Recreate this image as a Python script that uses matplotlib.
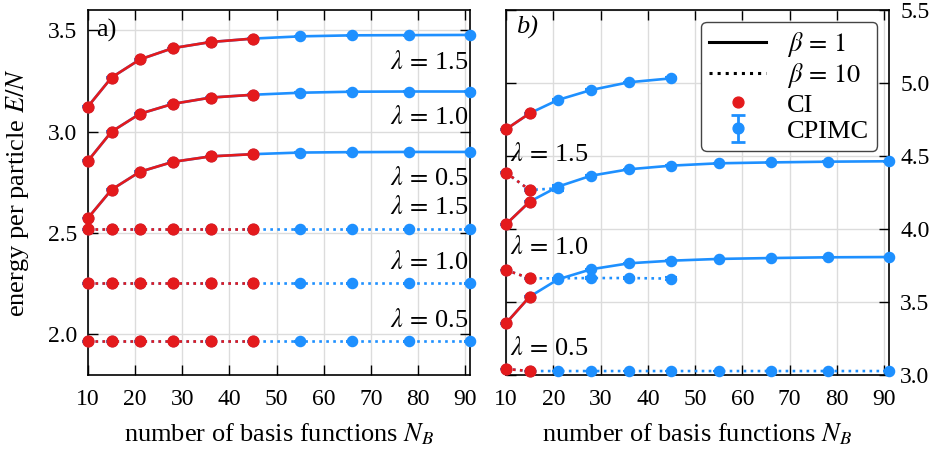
import numpy as np
import matplotlib
matplotlib.use('Agg')
import matplotlib.pyplot as plt
from matplotlib.lines import Line2D

plt.rcParams['font.family'] = 'Liberation Serif'
plt.rcParams['mathtext.fontset'] = 'stix'
plt.rcParams['font.size'] = 19

RED = '#e41a1c'
BLUE = '#1e90ff'
FS = 19      # labels, legend, annotations
TFS = 17     # tick labels

# number of basis functions
nb = [10, 15, 21, 28, 36, 45, 55, 66, 78, 91]

# ---- panel a) ----
a_cpimc_b1 = {
    1.5: [3.124, 3.267, 3.356, 3.412, 3.442, 3.459, 3.470, 3.475, 3.476, 3.477],
    1.0: [2.856, 3.000, 3.088, 3.137, 3.168, 3.182, 3.192, 3.197, 3.198, 3.198],
    0.5: [2.574, 2.714, 2.802, 2.851, 2.878, 2.889, 2.897, 2.899, 2.900, 2.900],
}
a_cpimc_b10 = {
    1.5: [2.518] * 10,
    1.0: [2.252] * 10,
    0.5: [1.967] * 10,
}
a_ci_b1 = {k: v[:6] for k, v in a_cpimc_b1.items()}
a_ci_b10 = {k: v[:6] for k, v in a_cpimc_b10.items()}
a_err = 0.002

# ---- panel b) ----
b_cpimc_b1 = {
    1.5: [4.683, 4.792, 4.884, 4.952, 5.005, 5.032],
    1.0: [4.032, 4.187, 4.290, 4.365, 4.409, 4.434, 4.450, 4.456, 4.461, 4.464],
    0.5: [3.354, 3.536, 3.655, 3.724, 3.765, 3.783, 3.795, 3.801, 3.806, 3.808],
}
b_cpimc_b1_err = {
    1.5: [0.003, 0.003, 0.004, 0.004, 0.005, 0.006],
    1.0: [0.002] * 10,
    0.5: [0.002] * 10,
}
b_cpimc_b10 = {
    1.5: [4.386, 4.267, 4.279],
    1.0: [3.719, 3.662, 3.662, 3.664, 3.664, 3.660],
    0.5: [3.041, 3.027, 3.027, 3.027, 3.027, 3.027, 3.027, 3.027, 3.027, 3.027],
}
b_cpimc_b10_err = {
    1.5: [0.004, 0.004, 0.020],
    1.0: [0.003, 0.003, 0.004, 0.004, 0.005, 0.012],
    0.5: [0.002] * 10,
}
b_ci_b1 = {1.5: [4.683, 4.792], 1.0: [4.032, 4.187], 0.5: [3.354, 3.536]}
b_ci_b10 = {1.5: [4.386, 4.267], 1.0: [3.719, 3.662], 0.5: [3.041, 3.027]}

fig = plt.figure(figsize=(9.37, 4.5), dpi=100)
ax1 = fig.add_axes([0.0939, 0.1667, 0.4077, 0.8111])
ax2 = fig.add_axes([0.540, 0.1667, 0.4088, 0.8111])

lw = 1.9
ms = 7.8
cap = 4


def draw(ax, cp, cperr, ci, ls):
    for lam in cp:
        y = cp[lam]
        x = nb[:len(y)]
        ax.errorbar(x, y, yerr=cperr[lam], color=BLUE, ls=ls, lw=lw, marker='o',
                    ms=ms - 0.5, capsize=cap, elinewidth=1.5, capthick=1.5,
                    zorder=3, clip_on=False)
    for lam in ci:
        y = ci[lam]
        x = nb[:len(y)]
        ax.plot(x, y, color=RED, ls=ls, lw=lw, marker='o', ms=ms, zorder=4,
                clip_on=False)


# panel a
draw(ax1, a_cpimc_b1, {k: [a_err] * 10 for k in a_cpimc_b1}, a_ci_b1, '-')
draw(ax1, a_cpimc_b10, {k: [a_err] * 10 for k in a_cpimc_b10}, a_ci_b10, ':')
# panel b
draw(ax2, b_cpimc_b1, b_cpimc_b1_err, b_ci_b1, '-')
draw(ax2, b_cpimc_b10, b_cpimc_b10_err, b_ci_b10, ':')

for ax in (ax1, ax2):
    ax.set_xlim(10, 91)
    ax.set_xticks(range(10, 91, 10))
    ax.grid(True, color='#dcdcdc', lw=1.0)
    ax.set_axisbelow(True)
    ax.tick_params(direction='in', top=True, right=True, length=7, width=1.0,
                   labelsize=TFS, pad=8)
    ax.tick_params(axis='x', pad=10)
    ax.set_xlabel('number of basis functions $N_B$', fontsize=FS, labelpad=8)
    for s in ax.spines.values():
        s.set_linewidth(1.2)

ax1.set_ylim(1.8, 3.6)
ax1.set_yticks([2.0, 2.5, 3.0, 3.5])
ax1.set_ylabel('energy per particle $E/N$', fontsize=FS, labelpad=12)

ax2.set_ylim(3.0, 5.5)
ax2.set_yticks([3.0, 3.5, 4.0, 4.5, 5.0, 5.5])
ax2.yaxis.tick_right()
ax2.tick_params(left=True, labelleft=False, labelright=True)

# annotations
ax1.text(11.8, 3.5, 'a)', fontsize=FS, va='center', ha='left')
ax2.text(12.2, 5.38, 'b)', fontsize=FS, va='center', ha='left', style='italic')

for lab, yy in [('1.5', 3.342), ('1.0', 3.071), ('0.5', 2.771),
                ('1.5', 2.628), ('1.0', 2.357), ('0.5', 2.071)]:
    ax1.text(90.6, yy, r'$\lambda\,=\,$' + lab, ha='right', va='center', fontsize=FS)
for lab, yy in [('1.5', 4.507), ('1.0', 3.870), ('0.5', 3.178)]:
    ax2.text(10.9, yy, r'$\lambda\,=\,$' + lab, ha='left', va='center', fontsize=FS)

# legend
h_b1 = Line2D([], [], color='black', lw=2.2, ls='-')
h_b10 = Line2D([], [], color='black', lw=2.2, ls=':')
h_ci = Line2D([], [], color=RED, marker='o', ls='none', ms=ms)
h_cp = ax2.errorbar([np.nan], [np.nan], yerr=[np.nan], color=BLUE, fmt='o',
                    ms=ms, capsize=5, elinewidth=2, capthick=2)
leg = ax2.legend([h_b1, h_b10, h_ci, h_cp],
                 [r'$\beta\,=\,1$', r'$\beta\,=\,10$', 'CI', 'CPIMC'],
                 loc='upper right', fontsize=FS,
                 fancybox=True, framealpha=1, edgecolor='#444444',
                 handlelength=2.15, labelspacing=0.1, borderpad=0.3,
                 handletextpad=0.8, borderaxespad=0.45)
leg.get_frame().set_linewidth(1.0)

fig.savefig('out.png', dpi=100)
